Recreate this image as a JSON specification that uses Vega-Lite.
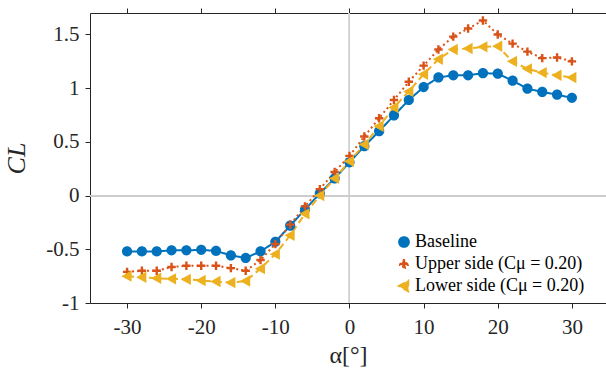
{
  "$schema": "https://vega.github.io/schema/vega-lite/v6.json",
  "width": 516,
  "height": 290,
  "autosize": {"type": "none"},
  "padding": {"left": 90, "top": 13, "right": 0, "bottom": 68},
  "background": "white",
  "config": {
    "font": "Liberation Serif",
    "view": {"stroke": null},
    "axis": {
      "grid": false,
      "domainColor": "#262626",
      "tickColor": "#262626",
      "labelColor": "#262626",
      "titleColor": "#262626",
      "labelFont": "Liberation Serif",
      "titleFont": "Liberation Serif",
      "labelFontSize": 21,
      "titleFontSize": 24,
      "titleFontWeight": "normal",
      "tickSize": 5,
      "domainWidth": 1,
      "tickWidth": 1
    },
    "legend": {
      "labelFont": "Liberation Serif", "labelFontSize": 18, "labelColor": "#000000",
      "labelLimit": 300
    }
  },
  "data": {
    "values": [
      {"series": "Baseline", "alpha": -30, "cl": -0.52},
      {"series": "Baseline", "alpha": -28, "cl": -0.52},
      {"series": "Baseline", "alpha": -26, "cl": -0.52},
      {"series": "Baseline", "alpha": -24, "cl": -0.51},
      {"series": "Baseline", "alpha": -22, "cl": -0.51},
      {"series": "Baseline", "alpha": -20, "cl": -0.505},
      {"series": "Baseline", "alpha": -18, "cl": -0.515},
      {"series": "Baseline", "alpha": -16, "cl": -0.557},
      {"series": "Baseline", "alpha": -14, "cl": -0.58},
      {"series": "Baseline", "alpha": -12, "cl": -0.52},
      {"series": "Baseline", "alpha": -10, "cl": -0.43},
      {"series": "Baseline", "alpha": -8, "cl": -0.28},
      {"series": "Baseline", "alpha": -6, "cl": -0.13},
      {"series": "Baseline", "alpha": -4, "cl": 0.02},
      {"series": "Baseline", "alpha": -2, "cl": 0.16},
      {"series": "Baseline", "alpha": 0, "cl": 0.31},
      {"series": "Baseline", "alpha": 2, "cl": 0.46},
      {"series": "Baseline", "alpha": 4, "cl": 0.6},
      {"series": "Baseline", "alpha": 6, "cl": 0.746},
      {"series": "Baseline", "alpha": 8, "cl": 0.89},
      {"series": "Baseline", "alpha": 10, "cl": 1.01},
      {"series": "Baseline", "alpha": 12, "cl": 1.1},
      {"series": "Baseline", "alpha": 14, "cl": 1.12},
      {"series": "Baseline", "alpha": 16, "cl": 1.12},
      {"series": "Baseline", "alpha": 18, "cl": 1.14},
      {"series": "Baseline", "alpha": 20, "cl": 1.135},
      {"series": "Baseline", "alpha": 22, "cl": 1.07},
      {"series": "Baseline", "alpha": 24, "cl": 0.995},
      {"series": "Baseline", "alpha": 26, "cl": 0.965},
      {"series": "Baseline", "alpha": 28, "cl": 0.94},
      {"series": "Baseline", "alpha": 30, "cl": 0.91},
      {"series": "Upper side (Cμ = 0.20)", "alpha": -30, "cl": -0.71},
      {"series": "Upper side (Cμ = 0.20)", "alpha": -28, "cl": -0.7},
      {"series": "Upper side (Cμ = 0.20)", "alpha": -26, "cl": -0.7},
      {"series": "Upper side (Cμ = 0.20)", "alpha": -24, "cl": -0.665},
      {"series": "Upper side (Cμ = 0.20)", "alpha": -22, "cl": -0.653},
      {"series": "Upper side (Cμ = 0.20)", "alpha": -20, "cl": -0.653},
      {"series": "Upper side (Cμ = 0.20)", "alpha": -18, "cl": -0.653},
      {"series": "Upper side (Cμ = 0.20)", "alpha": -16, "cl": -0.675},
      {"series": "Upper side (Cμ = 0.20)", "alpha": -14, "cl": -0.7},
      {"series": "Upper side (Cμ = 0.20)", "alpha": -12, "cl": -0.6},
      {"series": "Upper side (Cμ = 0.20)", "alpha": -10, "cl": -0.45},
      {"series": "Upper side (Cμ = 0.20)", "alpha": -8, "cl": -0.27},
      {"series": "Upper side (Cμ = 0.20)", "alpha": -6, "cl": -0.1},
      {"series": "Upper side (Cμ = 0.20)", "alpha": -4, "cl": 0.06},
      {"series": "Upper side (Cμ = 0.20)", "alpha": -2, "cl": 0.22},
      {"series": "Upper side (Cμ = 0.20)", "alpha": 0, "cl": 0.37},
      {"series": "Upper side (Cμ = 0.20)", "alpha": 2, "cl": 0.55},
      {"series": "Upper side (Cμ = 0.20)", "alpha": 4, "cl": 0.72},
      {"series": "Upper side (Cμ = 0.20)", "alpha": 6, "cl": 0.89},
      {"series": "Upper side (Cμ = 0.20)", "alpha": 8, "cl": 1.06},
      {"series": "Upper side (Cμ = 0.20)", "alpha": 10, "cl": 1.21},
      {"series": "Upper side (Cμ = 0.20)", "alpha": 12, "cl": 1.36},
      {"series": "Upper side (Cμ = 0.20)", "alpha": 14, "cl": 1.48},
      {"series": "Upper side (Cμ = 0.20)", "alpha": 16, "cl": 1.555},
      {"series": "Upper side (Cμ = 0.20)", "alpha": 18, "cl": 1.63},
      {"series": "Upper side (Cμ = 0.20)", "alpha": 20, "cl": 1.5},
      {"series": "Upper side (Cμ = 0.20)", "alpha": 22, "cl": 1.415},
      {"series": "Upper side (Cμ = 0.20)", "alpha": 24, "cl": 1.34},
      {"series": "Upper side (Cμ = 0.20)", "alpha": 26, "cl": 1.28},
      {"series": "Upper side (Cμ = 0.20)", "alpha": 28, "cl": 1.285},
      {"series": "Upper side (Cμ = 0.20)", "alpha": 30, "cl": 1.25},
      {"series": "Lower side (Cμ = 0.20)", "alpha": -30, "cl": -0.75},
      {"series": "Lower side (Cμ = 0.20)", "alpha": -28, "cl": -0.76},
      {"series": "Lower side (Cμ = 0.20)", "alpha": -26, "cl": -0.77},
      {"series": "Lower side (Cμ = 0.20)", "alpha": -24, "cl": -0.775},
      {"series": "Lower side (Cμ = 0.20)", "alpha": -22, "cl": -0.78},
      {"series": "Lower side (Cμ = 0.20)", "alpha": -20, "cl": -0.79},
      {"series": "Lower side (Cμ = 0.20)", "alpha": -18, "cl": -0.8},
      {"series": "Lower side (Cμ = 0.20)", "alpha": -16, "cl": -0.81},
      {"series": "Lower side (Cμ = 0.20)", "alpha": -14, "cl": -0.795},
      {"series": "Lower side (Cμ = 0.20)", "alpha": -12, "cl": -0.68},
      {"series": "Lower side (Cμ = 0.20)", "alpha": -10, "cl": -0.545},
      {"series": "Lower side (Cμ = 0.20)", "alpha": -8, "cl": -0.37},
      {"series": "Lower side (Cμ = 0.20)", "alpha": -6, "cl": -0.17},
      {"series": "Lower side (Cμ = 0.20)", "alpha": -4, "cl": 0.0},
      {"series": "Lower side (Cμ = 0.20)", "alpha": -2, "cl": 0.16},
      {"series": "Lower side (Cμ = 0.20)", "alpha": 0, "cl": 0.32},
      {"series": "Lower side (Cμ = 0.20)", "alpha": 2, "cl": 0.475},
      {"series": "Lower side (Cμ = 0.20)", "alpha": 4, "cl": 0.645},
      {"series": "Lower side (Cμ = 0.20)", "alpha": 6, "cl": 0.82},
      {"series": "Lower side (Cμ = 0.20)", "alpha": 8, "cl": 0.97},
      {"series": "Lower side (Cμ = 0.20)", "alpha": 10, "cl": 1.13},
      {"series": "Lower side (Cμ = 0.20)", "alpha": 12, "cl": 1.27},
      {"series": "Lower side (Cμ = 0.20)", "alpha": 14, "cl": 1.36},
      {"series": "Lower side (Cμ = 0.20)", "alpha": 16, "cl": 1.37},
      {"series": "Lower side (Cμ = 0.20)", "alpha": 18, "cl": 1.385},
      {"series": "Lower side (Cμ = 0.20)", "alpha": 20, "cl": 1.39},
      {"series": "Lower side (Cμ = 0.20)", "alpha": 22, "cl": 1.25},
      {"series": "Lower side (Cμ = 0.20)", "alpha": 24, "cl": 1.18},
      {"series": "Lower side (Cμ = 0.20)", "alpha": 26, "cl": 1.145},
      {"series": "Lower side (Cμ = 0.20)", "alpha": 28, "cl": 1.12},
      {"series": "Lower side (Cμ = 0.20)", "alpha": 30, "cl": 1.1}
    ]
  },
  "resolve": {"axis": {"x": "independent"}},
  "layer": [
    {
      "mark": {"type": "rule", "color": "#cfcfcf", "strokeWidth": 1},
      "encoding": {
        "x": {
          "datum": 0, "type": "quantitative",
          "scale": {"domain": [-35, 34.6], "nice": false},
          "axis": {"orient": "top", "labels": false, "title": null, "values": [-30, -20, -10, 0, 10, 20, 30]}
        }
      }
    },
    {
      "mark": {"type": "rule", "color": "#cfcfcf", "strokeWidth": 1},
      "encoding": {
        "y": {"datum": 0, "type": "quantitative"}
      }
    },
    {
      "mark": {"type": "line", "strokeWidth": 2},
      "encoding": {
        "x": {
          "field": "alpha", "type": "quantitative",
          "scale": {"domain": [-35, 34.6], "nice": false},
          "axis": {
            "orient": "bottom", "title": "α[°]",
            "values": [-30, -20, -10, 0, 10, 20, 30],
            "labelExpr": "toString(datum.value)",
            "labelPadding": 8, "titlePadding": 6
          }
        },
        "y": {
          "field": "cl", "type": "quantitative",
          "scale": {"domain": [-1, 1.7], "nice": false, "zero": false},
          "axis": {
            "title": "CL", "titleFontStyle": "italic", "titleFontSize": 26,
            "values": [-1, -0.5, 0, 0.5, 1, 1.5],
            "labelExpr": "toString(datum.value)",
            "labelPadding": 6, "titlePadding": 16
          }
        },
        "color": {
          "field": "series", "type": "nominal",
          "scale": {
            "domain": ["Baseline", "Upper side (Cμ = 0.20)", "Lower side (Cμ = 0.20)"],
            "range": ["#0072BD", "#D95319", "#EDB120"]
          },
          "legend": {
            "title": null, "orient": "none", "legendX": 305, "legendY": 220,
            "labelFont": "Liberation Serif", "labelFontSize": 18, "labelColor": "#000000",
            "symbolSize": 144, "rowPadding": 4, "padding": 0, "labelOffset": 2
          }
        },
        "strokeDash": {
          "field": "series", "type": "nominal",
          "scale": {
            "domain": ["Baseline", "Upper side (Cμ = 0.20)", "Lower side (Cμ = 0.20)"],
            "range": [[1, 0], [2, 3], [7, 4]]
          },
          "legend": null
        }
      }
    },
    {
      "mark": {"type": "point", "filled": true, "opacity": 1, "size": 144},
      "encoding": {
        "x": {"field": "alpha", "type": "quantitative", "axis": null},
        "y": {"field": "cl", "type": "quantitative"},
        "color": {
          "field": "series", "type": "nominal",
          "legend": {
            "title": null, "orient": "none", "legendX": 305, "legendY": 220,
            "labelFont": "Liberation Serif", "labelFontSize": 18, "labelColor": "#000000",
            "symbolSize": 144, "rowPadding": 4, "padding": 0, "labelOffset": 2
          }
        },
        "shape": {
          "field": "series", "type": "nominal",
          "scale": {
            "domain": ["Baseline", "Upper side (Cμ = 0.20)", "Lower side (Cμ = 0.20)"],
            "range": [
              "M0.85,0A0.85,0.85 0 1,1 -0.85,0A0.85,0.85 0 1,1 0.85,0Z",
              "M-0.2,-0.7L0.2,-0.7L0.2,-0.2L0.7,-0.2L0.7,0.2L0.2,0.2L0.2,0.7L-0.2,0.7L-0.2,0.2L-0.7,0.2L-0.7,-0.2L-0.2,-0.2Z",
              "M-0.95,0L0.75,-0.95L0.75,0.95Z"
            ]
          },
          "legend": {
            "title": null, "orient": "none", "legendX": 305, "legendY": 220,
            "labelFont": "Liberation Serif", "labelFontSize": 18, "labelColor": "#000000",
            "symbolSize": 144, "rowPadding": 4, "padding": 0, "labelOffset": 2
          }
        }
      }
    }
  ]
}
